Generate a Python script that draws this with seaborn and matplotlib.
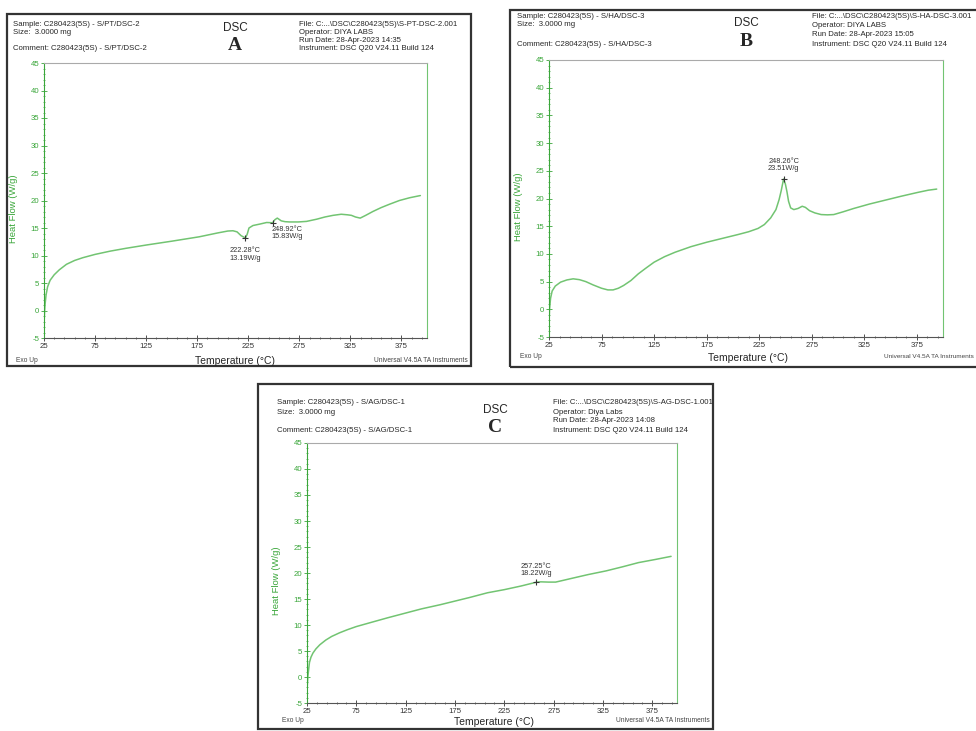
import matplotlib
matplotlib.use("Agg")
import matplotlib.pyplot as plt
from matplotlib.patches import Rectangle
from matplotlib.ticker import FixedLocator, MultipleLocator
import seaborn as sns
import pandas as pd

# ---- data ----
temp_a = [25, 25.5, 26, 27, 28.5, 31, 35, 40, 47, 55, 63, 75, 90, 105, 125, 150, 177,
          195, 205, 210, 214, 218, 222.28, 224, 225.7, 229.6, 236, 243, 248.92, 251,
          253.4, 255, 257.3, 261, 265.5, 274, 282, 292, 300, 308, 316, 322, 326, 330,
          334.6, 340, 347, 355, 363, 373, 383, 393.5]
flow_a = [-2.5, -0.5, 1.0, 2.8, 4.3, 5.5, 6.5, 7.4, 8.4, 9.1, 9.6, 10.2, 10.8, 11.3,
          11.9, 12.6, 13.4, 14.1, 14.45, 14.5, 14.3, 13.6, 13.19, 13.9, 15.0, 15.45,
          15.7, 16.0, 15.95, 16.5, 16.8, 16.6, 16.3, 16.15, 16.1, 16.1, 16.2, 16.6,
          17.0, 17.3, 17.5, 17.4, 17.3, 17.0, 16.8, 17.3, 18.0, 18.7, 19.3, 20.0,
          20.5, 20.9]

temp_b = [25, 25.5, 26.5, 28, 31, 36, 42, 48, 54, 60, 67, 75, 81, 86, 91, 96, 103, 110,
          117, 125, 135, 145, 160, 175, 190, 205, 215, 224, 230, 236, 241, 244, 246,
          248.26, 250, 251.5, 253, 255, 258, 262, 266, 269, 273, 278, 284, 290, 296,
          305, 315, 330, 345, 360, 376, 386, 394]
flow_b = [-2.6, 0.0, 2.0, 3.3, 4.2, 4.9, 5.3, 5.5, 5.35, 5.0, 4.4, 3.8, 3.5, 3.5, 3.8,
          4.3, 5.2, 6.4, 7.4, 8.5, 9.5, 10.3, 11.3, 12.1, 12.8, 13.5, 14.0, 14.6, 15.3,
          16.5, 18.0, 19.8, 21.4, 23.51, 22.6, 21.2, 19.5, 18.3, 18.0, 18.2, 18.6, 18.4,
          17.8, 17.4, 17.1, 17.05, 17.1, 17.6, 18.2, 19.0, 19.7, 20.4, 21.1, 21.5, 21.7]

temp_c = [25, 25.5, 26, 26.7, 27.5, 29, 31, 34, 38, 44, 50, 58, 66, 75, 90, 107, 125,
          141, 160, 175, 190, 208, 225, 242, 257.25, 262, 270, 277, 285, 294, 310, 328,
          345, 361, 378, 394]
flow_c = [-2.6, -1.0, 0.3, 1.5, 2.8, 3.8, 4.6, 5.4, 6.2, 7.1, 7.8, 8.5, 9.1, 9.7, 10.5,
          11.4, 12.3, 13.1, 13.9, 14.6, 15.3, 16.2, 16.8, 17.5, 18.22, 18.3, 18.25,
          18.25, 18.6, 19.0, 19.7, 20.4, 21.2, 22.0, 22.6, 23.2]

peaks_a = [(222.28, 13.19), (248.92, 15.83)]
peaks_b = [(248.26, 23.51)]
peaks_c = [(257.25, 18.22)]

y_ticks = list(range(-5, 46, 5))
x_ticks = list(range(25, 376, 50))

headers = {
    "A": dict(sample="Sample: C280423(5S) - S/PT/DSC-2",
              comment="Comment: C280423(5S) - S/PT/DSC-2",
              file="File: C:...\\DSC\\C280423(5S)\\S-PT-DSC-2.001",
              operator="Operator: DIYA LABS",
              run="Run Date: 28-Apr-2023 14:35"),
    "B": dict(sample="Sample: C280423(5S) - S/HA/DSC-3",
              comment="Comment: C280423(5S) - S/HA/DSC-3",
              file="File: C:...\\DSC\\C280423(5S)\\S-HA-DSC-3.001",
              operator="Operator: DIYA LABS",
              run="Run Date: 28-Apr-2023 15:05"),
    "C": dict(sample="Sample: C280423(5S) - S/AG/DSC-1",
              comment="Comment: C280423(5S) - S/AG/DSC-1",
              file="File: C:...\\DSC\\C280423(5S)\\S-AG-DSC-1.001",
              operator="Operator: Diya Labs",
              run="Run Date: 28-Apr-2023 14:08"),
}

# ---- style ----
sns.set_style("white")
plt.rcParams['font.family'] = ['Liberation Sans', 'DejaVu Sans']
plt.rcParams['axes.unicode_minus'] = False

W, H = 976, 731
LINE = "#72c472"
GREEN = "#3aa63a"

fig = plt.figure(figsize=(W / 100, H / 100), dpi=100)


def fx(px):
    return px / W


def fy(py):
    return 1 - py / H


def box(x0, y0, x1, y1):
    fig.patches.append(Rectangle((fx(x0), fy(y1)), fx(x1 - x0), (y1 - y0) / H,
                                 transform=fig.transFigure, fill=False,
                                 edgecolor="#333333", linewidth=1.6))


def header(key, x_left, x_mid, x_file, y0, dy_small, y_comment, y_dsc, y_letter):
    h = headers[key]
    fs = 5.6
    fig.text(fx(x_left), fy(y0), h["sample"], fontsize=fs, va="center")
    fig.text(fx(x_left), fy(y0 + dy_small), "Size:  3.0000 mg", fontsize=fs, va="center")
    fig.text(fx(x_left), fy(y_comment), h["comment"], fontsize=fs, va="center")
    fig.text(fx(x_mid), fy(y_dsc), "DSC", fontsize=8.5, ha="center", va="center")
    fig.text(fx(x_mid), fy(y_letter), key, fontsize=14, ha="center", va="center",
             family="Liberation Serif", fontweight="bold")
    lines = [h["file"], h["operator"], h["run"], "Instrument: DSC Q20 V24.11 Build 124"]
    step = (y_comment - y0) / 3
    for i, t in enumerate(lines):
        fig.text(fx(x_file), fy(y0 + i * step), t, fontsize=fs, va="center")


def panel(x0, y0, x1, y1, temps, flows, peaks, labels):
    ax = fig.add_axes([fx(x0), fy(y1), fx(x1 - x0), (y1 - y0) / H])
    df = pd.DataFrame({"Temperature": temps, "Heat Flow": flows})
    sns.lineplot(data=df, x="Temperature", y="Heat Flow", ax=ax, color=LINE,
                 linewidth=1.1)
    px, py = zip(*peaks)
    ax.plot(px, py, linestyle="none", marker="+", markersize=5, color="#333333",
            markeredgewidth=0.8)
    for (t, f), (dx, dy, ha) in zip(peaks, labels):
        ax.annotate(f"{t:.2f}°C\n{f:.2f}W/g", (t, f), xytext=(dx, dy),
                    textcoords="offset points", fontsize=5.3, ha=ha,
                    va="center", color="#333333", linespacing=1.1)
    ax.set_xlim(25, 400)
    ax.set_ylim(-5, 45)
    ax.xaxis.set_major_locator(FixedLocator(x_ticks))
    ax.xaxis.set_minor_locator(MultipleLocator(10, offset=5))
    ax.yaxis.set_major_locator(FixedLocator(y_ticks))
    ax.yaxis.set_minor_locator(MultipleLocator(1))
    ax.tick_params(axis="x", which="major", direction="inout", length=4, width=0.6,
                   labelsize=5.6, pad=1.5, colors="#333333", bottom=True)
    ax.tick_params(axis="x", which="minor", direction="inout", length=2, width=0.5,
                   colors="#333333", bottom=True)
    ax.tick_params(axis="y", which="major", direction="inout", length=4, width=0.6,
                   labelsize=5.6, pad=1.5, colors=GREEN, left=True)
    ax.tick_params(axis="y", which="minor", direction="inout", length=2, width=0.5,
                   colors=GREEN, left=True)
    ax.spines["left"].set_color(GREEN)
    ax.spines["right"].set_color(LINE)
    ax.spines["top"].set_color("#aaaaaa")
    ax.spines["bottom"].set_color("#555555")
    for s in ax.spines.values():
        s.set_linewidth(0.8)
    ax.set_xlabel("")
    ax.set_ylabel("Heat Flow (W/g)", color=GREEN, fontsize=6.8)
    ax.yaxis.set_label_coords(-26 / (x1 - x0), 0.47)
    return ax


# ---- panel A ----
box(7, 14, 471, 366)
header("A", 13, 235, 299, 24, 9, 49, 28, 46)
panel(44, 63, 427, 338, temp_a, flow_a, peaks_a,
      [(0, -12, "center"), (-1, -7, "left")])
fig.text(fx(16), fy(360), "Exo Up", fontsize=4.8, va="center", color="#444444")
fig.text(fx(235), fy(361), "Temperature (°C)", fontsize=7.5, ha="center", va="center")
fig.text(fx(468), fy(360), "Universal V4.5A TA Instruments", fontsize=4.8,
         ha="right", va="center", color="#444444")

# ---- panel B ----
box(510, 10, 982, 367)
header("B", 517, 746, 812, 16, 9, 44, 23, 42)
panel(549, 60, 943, 337, temp_b, flow_b, peaks_b, [(0, 10, "center")])
fig.text(fx(520), fy(357), "Exo Up", fontsize=4.8, va="center", color="#444444")
fig.text(fx(748), fy(358), "Temperature (°C)", fontsize=7.5, ha="center", va="center")
fig.text(fx(974), fy(357), "Universal V4.5A TA Instruments", fontsize=4.6,
         ha="right", va="center", color="#444444")

# ---- panel C ----
box(258, 384, 713, 729)
header("C", 277, 495, 553, 403, 9, 430, 410, 427)
panel(307, 443, 677, 703, temp_c, flow_c, peaks_c, [(0, 9, "center")])
fig.text(fx(282), fy(720), "Exo Up", fontsize=4.8, va="center", color="#444444")
fig.text(fx(494), fy(722), "Temperature (°C)", fontsize=7.5, ha="center", va="center")
fig.text(fx(710), fy(720), "Universal V4.5A TA Instruments", fontsize=4.8,
         ha="right", va="center", color="#444444")

fig.savefig("out.png", dpi=100)
